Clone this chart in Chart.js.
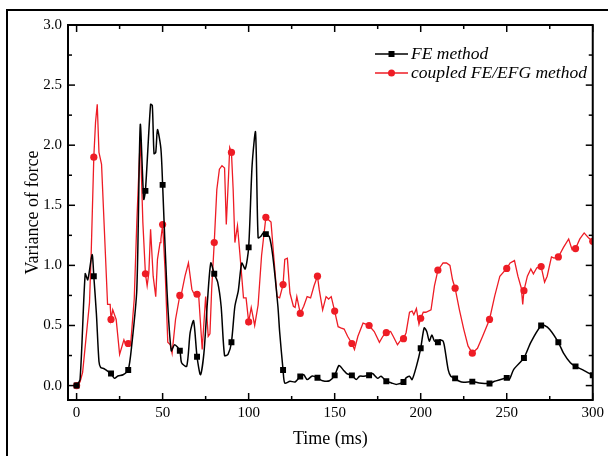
<!DOCTYPE html>
<html lang="en">
<head>
  <meta charset="UTF-8" />
  <title>Variance of force</title>
  <script src="https://cdn.jsdelivr.net/npm/chart.js"></script>
  <style>
    html, body { margin: 0; padding: 0; background: #fff; }
    .wrap { position: relative; width: 608px; height: 456px; overflow: hidden; }
    .frame { position: absolute; left: 6px; top: 9px; right: -10px; bottom: -10px;
             border-left: 2px solid #000; border-top: 2px solid #000; }
    canvas { position: absolute; left: 0; top: 0; }
  </style>
</head>
<body>
  <div class="wrap">
    <div class="frame"></div>
    <canvas id="grafico" width="608" height="456"></canvas>
  </div>

  <script>
    // tick labels
    var xTicks = [0, 50, 100, 150, 200, 250, 300];
    var yTicks = [0, 0.5, 1.0, 1.5, 2.0, 2.5, 3.0];

    // FE method
    var feTime = [0, 2, 5, 6.5, 9, 10, 11.5, 13, 14, 16, 18, 20, 22, 24, 27, 30, 32, 35, 37, 39,
      40, 43, 44, 45, 46, 47, 49, 50, 52.5, 55, 57, 60, 61, 64, 66, 68, 70, 72, 74, 76,
      78, 80, 82, 84, 86, 88, 90, 92, 94, 96, 98, 100, 102, 104, 105.5, 107, 108.5, 110, 112, 114,
      117, 118, 120, 121, 124, 127, 130, 132, 134, 137, 140, 143, 147, 150, 152.5, 155, 157, 160, 162.5, 164.5,
      167, 170, 172, 175, 177, 180, 183, 186, 190, 191.5, 193.5, 195, 197.5, 200, 202, 203.5, 205, 206.5, 208, 210,
      211, 213, 214, 216, 217.5, 220, 222.5, 225, 230, 234, 240, 243, 250, 251.5, 254, 260, 264, 270, 272, 275,
      280, 283, 287, 290, 295, 300];
    var feValue = [0, 0.05, 0.93, 0.88, 1.09, 0.91, 0.6, 0.2, 0.15, 0.14, 0.12, 0.1, 0.06, 0.08, 0.09, 0.13, 0.33, 0.8, 2.17, 1.55,
      1.62, 2.34, 2.33, 1.93, 1.94, 2.13, 1.97, 1.67, 0.8, 0.29, 0.34, 0.29, 0.19, 0.16, 0.44, 0.54, 0.24, 0.09, 0.27, 0.69,
      1.02, 0.93, 0.86, 0.66, 0.25, 0.26, 0.36, 0.66, 0.79, 1.02, 0.97, 1.15, 1.83, 2.11, 1.23, 1.24, 1.27, 1.26, 1.24, 1.08,
      0.66, 0.45, 0.13, 0.02, 0.036, 0.03, 0.075, 0.09, 0.05, 0.08, 0.065, 0.04, 0.04, 0.085, 0.167, 0.13, 0.1, 0.085, 0.05, 0.078,
      0.078, 0.086, 0.1, 0.06, 0.078, 0.036, 0.022, 0.01, 0.03, 0.064, 0.078, 0.05, 0.16, 0.31, 0.48, 0.45, 0.37, 0.42, 0.37, 0.36,
      0.38, 0.37, 0.31, 0.13, 0.078, 0.06, 0.036, 0.028, 0.033, 0.022, 0.017, 0.036, 0.064, 0.05, 0.133, 0.23, 0.36, 0.5, 0.5, 0.467,
      0.36, 0.27, 0.19, 0.16, 0.125, 0.086];

    // coupled FE/EFG method
    var efgTime = [0, 2, 3.5, 6, 7.5, 8.5, 10, 11, 12, 13, 14.5, 18, 19.5, 20, 21, 23, 25, 27.5, 28.5, 30,
      31.5, 33.5, 35, 37, 38.5, 40, 41, 42, 43, 44.5, 46, 47, 48.5, 49, 50, 51.5, 53, 54.5, 55.5, 57.5,
      60, 61, 63, 65, 67, 68, 70, 71, 73, 75, 76.5, 77.5, 78.5, 80, 81.5, 83, 84.5, 86, 87, 88.3,
      89, 90, 91, 92, 93.5, 95, 97, 98.5, 100, 101.5, 103.5, 105.5, 107.5, 110, 111.5, 113, 114.5, 116.5, 118, 120,
      121, 122.5, 124, 126, 127, 128, 130, 132, 134, 136, 138, 140, 141, 143, 145, 146.5, 148, 150, 152, 153.5,
      155.5, 157.5, 160, 161.5, 163.5, 166.5, 168.5, 170, 173, 176, 178, 180, 182.5, 184, 186.5, 188.5, 190, 191.5, 193.5, 195,
      196, 197.5, 199, 200, 201.5, 203, 206, 208, 210, 213, 215, 217, 218.5, 220, 222.5, 225, 227.5, 230, 233, 236,
      240, 243, 246, 250, 252, 254.5, 256.5, 258.5, 259.3, 260, 262, 264, 265.5, 267.5, 270, 272, 273.5, 276, 277.5, 280,
      283, 286, 288, 290, 292.5, 295, 297.5, 300];
    var efgValue = [0, 0.03, 0.11, 0.47, 0.69, 1.11, 1.9, 2.19, 2.34, 1.94, 1.84, 0.675, 0.675, 0.55, 0.63, 0.55, 0.26, 0.38, 0.34, 0.35,
      0.36, 0.72, 1.36, 2.07, 1.36, 0.93, 0.83, 0.94, 1.3, 0.91, 0.74, 1.05, 1.19, 1.22, 1.34, 0.94, 0.36, 0.34, 0.27, 0.55,
      0.75, 0.77, 0.91, 1.02, 0.8, 0.77, 0.76, 0.74, 0.3, 0.74, 0.41, 0.43, 0.8, 1.19, 1.63, 1.8, 1.83, 1.81, 1.34, 1.74,
      1.98, 1.94, 1.63, 1.19, 1.33, 1.08, 0.73, 0.73, 0.53, 0.65, 0.5, 0.67, 1.08, 1.4, 1.38, 1.36, 1.09, 0.74, 0.73, 0.84,
      1.05, 1.06, 0.77, 0.66, 0.65, 0.74, 0.6, 0.66, 0.74, 0.73, 0.83, 0.91, 0.8, 0.63, 0.74, 0.72, 0.74, 0.62, 0.49, 0.48,
      0.47, 0.41, 0.35, 0.3, 0.41, 0.52, 0.51, 0.5, 0.45, 0.36, 0.41, 0.44, 0.45, 0.41, 0.34, 0.38, 0.39, 0.44, 0.61, 0.62,
      0.59, 0.64, 0.51, 0.56, 0.61, 0.61, 0.63, 0.83, 0.96, 1.02, 1.02, 1.0, 0.88, 0.81, 0.63, 0.47, 0.33, 0.27, 0.31, 0.41,
      0.55, 0.745, 0.91, 0.975, 1.02, 1.04, 0.91, 0.81, 0.675, 0.79, 0.91, 0.97, 0.93, 0.98, 0.99, 0.86, 0.91, 1.07, 1.06, 1.07,
      1.15, 1.22, 1.13, 1.14, 1.22, 1.27, 1.23, 1.2];

    function pontos(tempos, valores) {
      var lista = [];
      for (var i = 0; i < tempos.length; i++) {
        lista.push({ x: tempos[i], y: valores[i] });
      }
      return lista;
    }

    // markers only every 10 ms
    function raios(tempos, r) {
      return tempos.map(function (t) { return t % 10 === 0 ? r : 0; });
    }

    var serif = "'Liberation Serif', 'DejaVu Serif', serif";

    // inward ticks on all four sides + box
    var moldura = {
      id: "moldura",
      afterDraw: function (chart) {
        var ctx = chart.ctx;
        var a = chart.chartArea;
        var x = chart.scales.x;
        var y = chart.scales.y;
        ctx.save();
        ctx.strokeStyle = "#000";
        ctx.lineWidth = 1.5;
        function traco(x1, y1, x2, y2) {
          ctx.beginPath();
          ctx.moveTo(x1, y1);
          ctx.lineTo(x2, y2);
          ctx.stroke();
        }
        for (var i = 0; i < xTicks.length; i++) {
          var px = x.getPixelForValue(xTicks[i]);
          traco(px, a.bottom, px, a.bottom - 7);
          traco(px, a.top, px, a.top + 7);
          if (i < xTicks.length - 1) {
            var pm = x.getPixelForValue((xTicks[i] + xTicks[i + 1]) / 2);
            traco(pm, a.bottom, pm, a.bottom - 4);
            traco(pm, a.top, pm, a.top + 4);
          }
        }
        for (var j = 0; j < yTicks.length; j++) {
          var py = y.getPixelForValue(yTicks[j]);
          traco(a.left, py, a.left + 7, py);
          traco(a.right, py, a.right - 7, py);
          if (j < yTicks.length - 1) {
            var pn = y.getPixelForValue((yTicks[j] + yTicks[j + 1]) / 2);
            traco(a.left, pn, a.left + 4, pn);
            traco(a.right, pn, a.right - 4, pn);
          }
        }
        ctx.lineWidth = 2;
        ctx.strokeRect(a.left, a.top, a.right - a.left, a.bottom - a.top);
        ctx.restore();
      }
    };

    // legend drawn inside the plot, line + marker
    var legenda = {
      id: "legenda",
      afterDraw: function (chart) {
        var ctx = chart.ctx;
        ctx.save();
        chart.data.datasets.forEach(function (ds, k) {
          var yy = 54 + k * 19;
          ctx.strokeStyle = ds.borderColor;
          ctx.lineWidth = 1.5;
          ctx.beginPath();
          ctx.moveTo(375, yy);
          ctx.lineTo(408, yy);
          ctx.stroke();
          ctx.fillStyle = ds.pointBackgroundColor;
          if (ds.pointStyle === "rect") {
            ctx.fillRect(388.5, yy - 3, 6, 6);
          } else {
            ctx.beginPath();
            ctx.arc(391.5, yy, 3.5, 0, Math.PI * 2);
            ctx.fill();
          }
          ctx.fillStyle = "#000";
          ctx.font = "italic 17.5px " + serif;
          ctx.textBaseline = "middle";
          ctx.fillText(ds.label, 411, yy);
        });
        ctx.restore();
      }
    };

    var chartForca = new Chart(document.getElementById("grafico"), {
      type: "line",
      data: {
        datasets: [{
          label: "FE method",
          data: pontos(feTime, feValue),
          borderColor: "#000000",
          backgroundColor: "#000000",
          pointBackgroundColor: "#000000",
          pointBorderColor: "#000000",
          pointStyle: "rect",
          pointRadius: raios(feTime, 4.2),
          pointBorderWidth: 0,
          borderWidth: 1.5,
          tension: 0.25
        }, {
          label: "coupled FE/EFG method",
          data: pontos(efgTime, efgValue),
          borderColor: "#ee1c25",
          backgroundColor: "#ee1c25",
          pointBackgroundColor: "#ee1c25",
          pointBorderColor: "#ee1c25",
          pointStyle: "circle",
          pointRadius: raios(efgTime, 3.6),
          pointBorderWidth: 0,
          borderWidth: 1.3,
          tension: 0
        }]
      },
      options: {
        responsive: false,
        animation: false,
        events: [],
        layout: { padding: { left: 22, right: 14, top: 25, bottom: 4 } },
        plugins: {
          legend: { display: false },
          tooltip: { enabled: false }
        },
        scales: {
          x: {
            type: "linear",
            min: -5,
            max: 300,
            afterFit: function (s) { s.height = 52; },
            afterBuildTicks: function (s) {
              s.ticks = xTicks.map(function (v) { return { value: v }; });
            },
            grid: { display: false, drawTicks: false },
            border: { display: false },
            ticks: {
              color: "#000",
              padding: 4,
              maxRotation: 0,
              font: { family: serif, size: 15 },
              callback: function (v) { return v; }
            },
            title: {
              display: true,
              text: "Time (ms)",
              color: "#000",
              font: { family: serif, size: 18 },
              padding: { top: 0, bottom: 2 }
            }
          },
          y: {
            min: -0.12,
            max: 3.0,
            afterFit: function (s) { s.width = 46; },
            afterBuildTicks: function (s) {
              s.ticks = yTicks.map(function (v) { return { value: v }; });
            },
            grid: { display: false, drawTicks: false },
            border: { display: false },
            ticks: {
              color: "#000",
              padding: 6,
              font: { family: serif, size: 15 },
              callback: function (v) { return Number(v).toFixed(1); }
            },
            title: {
              display: true,
              text: "Variance of force",
              color: "#000",
              font: { family: serif, size: 18 },
              padding: { top: 0, bottom: 0 }
            }
          }
        }
      },
      plugins: [moldura, legenda]
    });
  </script>
</body>
</html>
